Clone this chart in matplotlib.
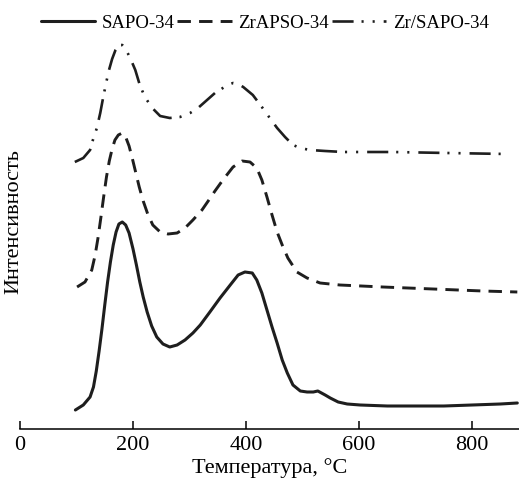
import matplotlib
matplotlib.use("Agg")
import matplotlib.pyplot as plt

plt.rcParams['font.family'] = ['Liberation Serif', 'DejaVu Serif']

# temperature (C) and intensity (a.u.)
t_sapo = [98, 112, 124, 130, 135, 140, 145, 150, 155, 160, 165, 170, 175, 181, 187,
          193, 200, 206, 212, 218, 225, 233, 242, 253, 265, 278, 292, 306, 319, 336,
          354, 372, 386, 398, 411, 419, 428, 437, 446, 455, 464, 473, 483, 496, 508,
          519, 527, 540, 549, 563, 579, 602, 650, 700, 750, 800, 850, 880]
i_sapo = [19, 24, 32, 42, 58, 78, 100, 124, 147, 167, 184, 197, 205, 207, 204,
          196, 180, 164, 147, 132, 117, 103, 92, 85, 82, 84, 89, 96, 104, 117,
          131, 144, 154, 157, 156, 149, 136, 119, 102, 86, 69, 56, 44, 38, 37,
          37, 38, 34, 31, 27, 25, 24, 23, 23, 23, 24, 25, 26]

t_zrapso = [101, 115, 127, 133, 138, 143, 148, 153, 158, 163, 168, 174, 181, 187, 193,
            199, 205, 211, 218, 226, 235, 248, 262, 278, 292, 306, 322, 333, 345, 359,
            377, 393, 407, 419, 428, 437, 446, 455, 464, 474, 490, 508, 531, 566, 642,
            731, 819, 880]
i_zrapso = [142, 147, 159, 174, 191, 211, 232, 252, 268, 280, 289, 294, 296, 292, 283,
            270, 256, 242, 228, 215, 204, 197, 195, 196, 201, 209, 219, 228, 238, 249,
            262, 268, 267, 261, 249, 232, 214, 197, 184, 171, 157, 151, 146, 144, 142,
            140, 138, 137]

t_zr = [97, 112, 124, 129, 136, 142, 147, 152, 157, 163, 169, 175, 181, 186, 195,
        204, 212, 221, 234, 248, 265, 283, 301, 315, 331, 345, 359, 368, 377, 386,
        395, 412, 428, 442, 455, 469, 483, 496, 513, 540, 572, 660, 756, 862]
i_zr = [267, 271, 279, 289, 301, 316, 331, 345, 358, 370, 379, 384, 384, 381, 371,
        359, 344, 332, 321, 313, 311, 312, 316, 321, 329, 336, 341, 344, 346, 345,
        342, 334, 322, 311, 301, 292, 284, 281, 279, 278, 277, 277, 276, 275]

labels = ['SAPO-34', 'ZrAPSO-34', 'Zr/SAPO-34']
xticks = [0, 200, 400, 600, 800]

fig = plt.figure(figsize=(5.19, 4.95), dpi=100)
ax = fig.add_axes([20/519, 1 - 429/495, 1 - 20/519, 399/495])

c = '#1e1e1e'
kw = dict(color=c, solid_joinstyle='round', solid_capstyle='round')
ax.plot(t_sapo, i_sapo, lw=2.2, label=labels[0], **kw)
ax.plot(t_zrapso, i_zrapso, lw=2.1, ls=(0, (4.6, 2.8)), label=labels[1], **kw)
ax.plot(t_zr, i_zr, lw=1.9, ls=(0, (8.0, 3.0, 0.8, 3.4, 0.8, 3.4)), label=labels[2], **kw)

ax.set_xlim(0, 883)
ax.set_ylim(0, 399)
ax.set_xticks(xticks)
ax.set_yticks([])
for s in ['left', 'right', 'top']:
    ax.spines[s].set_visible(False)
ax.spines['bottom'].set_linewidth(1.1)
ax.tick_params(axis='x', direction='in', length=5.8, width=1.1, pad=5, labelsize=16)

ax.set_xlabel('Температура, °C', fontsize=16, labelpad=2)
ax.set_ylabel('Интенсивность', fontsize=16)
ax.yaxis.set_label_coords(0.006, 0.52)

fig.legend(loc='center', bbox_to_anchor=(0.51, 1 - 23/495), ncol=3, frameon=False,
           fontsize=13.5, handlelength=2.9, handletextpad=0.35, columnspacing=0.15,
           borderpad=0, borderaxespad=0)

fig.savefig('out.png', dpi=100)
